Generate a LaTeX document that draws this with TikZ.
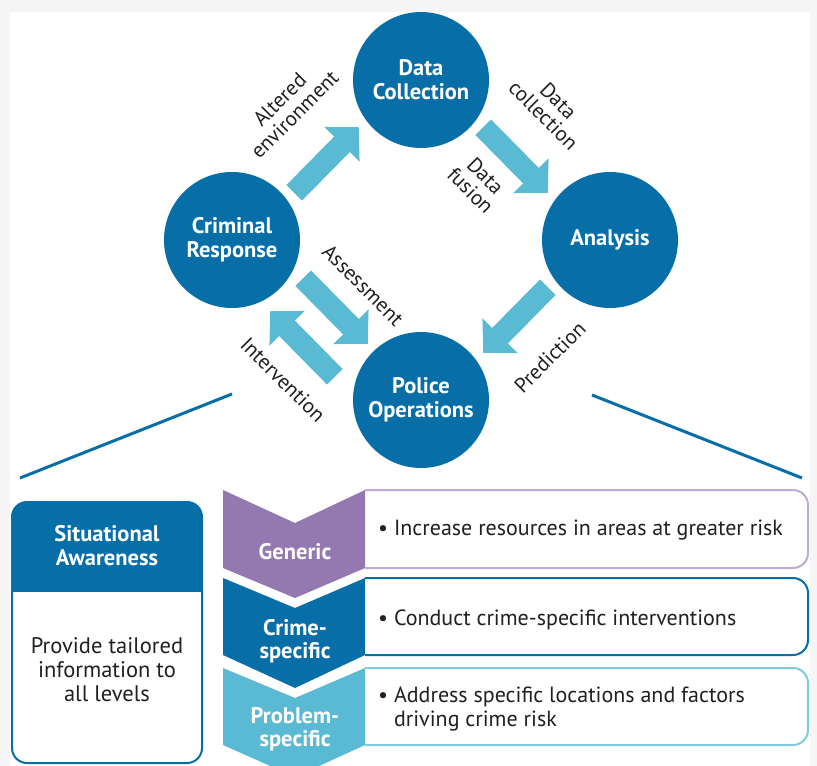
\documentclass[tikz,border=0pt]{standalone}
\usepackage{fontspec}
\setmainfont{PT Sans}
\usepackage{xcolor}
\usetikzlibrary{arrows.meta,positioning,calc}

\definecolor{rblue}{RGB}{8,110,168}
\definecolor{rlight}{RGB}{91,186,211}
\definecolor{rpale}{RGB}{128,203,224}
\definecolor{rpurple}{RGB}{148,121,176}
\definecolor{rlilac}{RGB}{190,172,212}
\definecolor{rink}{RGB}{35,31,32}
\definecolor{rpaper}{RGB}{245,245,245}

\begin{document}
\begin{tikzpicture}[x=1pt, y=-1pt,
  stage/.style={circle, fill=rblue, minimum size=136pt, inner sep=0pt, text=white, align=center, font=\fontsize{22.5}{24}\selectfont\bfseries},
  flow/.style={line width=22pt, rlight, -{Triangle[width=48pt,length=24pt]}, shorten <=10pt, shorten >=10pt},
  lbl/.style={text=rink, align=center, inner sep=0pt, font=\fontsize{21}{21}\selectfont},
  level/.style={text=white, align=center, inner sep=0pt, font=\fontsize{22.5}{23}\selectfont\bfseries},
  item/.style={text=rink, align=left, anchor=west, inner sep=0pt, font=\fontsize{22}{24}\selectfont},
  panel/.style={line width=2pt, fill=white, rounded corners=15pt}
]
  % page
  \useasboundingbox (0,0) rectangle (817,766);
  \fill[rpaper] (0,0) rectangle (817,766);
  \fill[white] (10,12) rectangle (810,766);

  % cycle
  \node[stage] (datacol) at (421,80) {Data\\Collection};
  \node[stage] (crim) at (232,240) {Criminal\\Response};
  \node[stage] (analysis) at (610,240) {Analysis};
  \node[stage] (police) at (421,400) {Police\\Operations};

  \draw[flow] (crim.36) -- (datacol.216);
  \draw[flow] (datacol.324) -- (analysis.144);
  \draw[flow] (analysis.216) -- (police.36);
  \draw[flow, transform canvas={shift={(9,-9)}}] (crim.324) -- (police.144);
  \draw[flow, transform canvas={shift={(-24,24)}}] (police.144) -- (crim.324);

  \node[lbl, rotate=45] (altered) at (287,107) {Altered\\environment};
  \node[lbl, rotate=-45] (collect) at (551,108) {Data\\collection};
  \node[lbl, rotate=-45] (fusion) at (478,183) {Data\\fusion};
  \node[lbl, rotate=-45] (assess) at (363,285) {Assessment};
  \node[lbl, rotate=-45] (interv) at (283,380) {Intervention};
  \node[lbl, rotate=45] (predict) at (550,357) {Prediction};

  % zoom lines
  \coordinate (zoomL) at (20,478);
  \coordinate (zoomLtop) at (232,394);
  \coordinate (zoomRtop) at (592,395);
  \coordinate (zoomR) at (802,478);
  \draw[rblue, line width=3pt] (zoomL) -- (zoomLtop);
  \draw[rblue, line width=3pt] (zoomRtop) -- (zoomR);

  % situational awareness
  \begin{scope}
    \clip[rounded corners=15pt] (12,502) rectangle (202,763);
    \fill[rblue] (12,502) rectangle (202,592);
  \end{scope}
  \draw[rblue, line width=2pt, rounded corners=15pt] (12,502) rectangle (202,763);
  \node[level, font=\fontsize{22.5}{24}\selectfont\bfseries] (aware) at (107,546) {Situational\\Awareness};
  \node[text=rink, align=center, font=\fontsize{22.5}{24}\selectfont] (tailored) at (107,670) {Provide tailored\\information to\\all levels};

  % right boxes
  \draw[panel, draw=rlilac] (365,490) -- (808,490) -- (808,568) -- (365,568);
  \draw[panel, draw=rblue] (365,578) -- (808,578) -- (808,655) -- (365,655);
  \draw[panel, draw=rpale] (365,668) -- (808,668) -- (808,745) -- (365,745);

  % chevrons
  \fill[rpurple] (223,490) -- (295,523) -- (365,490) -- (365,568) -- (295,598) -- (223,568) -- cycle;
  \fill[rblue] (223,578) -- (295,608) -- (365,578) -- (365,655) -- (295,688) -- (223,655) -- cycle;
  \fill[rlight] (223,668) -- (295,698) -- (365,668) -- (365,745) -- (295,777) -- (223,745) -- cycle;

  \node[level] (generic) at (295,552) {Generic};
  \node[level] (crimespec) at (295,641) {Crime-\\specific};
  \node[level] (probspec) at (295,729) {Problem-\\specific};

  \node[item] (more) at (378,530) {\textbullet\ Increase resources in areas at greater risk};
  \node[item] (conduct) at (378,620) {\textbullet\ Conduct crime-specific interventions};
  \node[item] (address) at (378,709) {\textbullet\ Address specific locations and factors\\\phantom{\textbullet\ }driving crime risk};
\end{tikzpicture}
\end{document}
